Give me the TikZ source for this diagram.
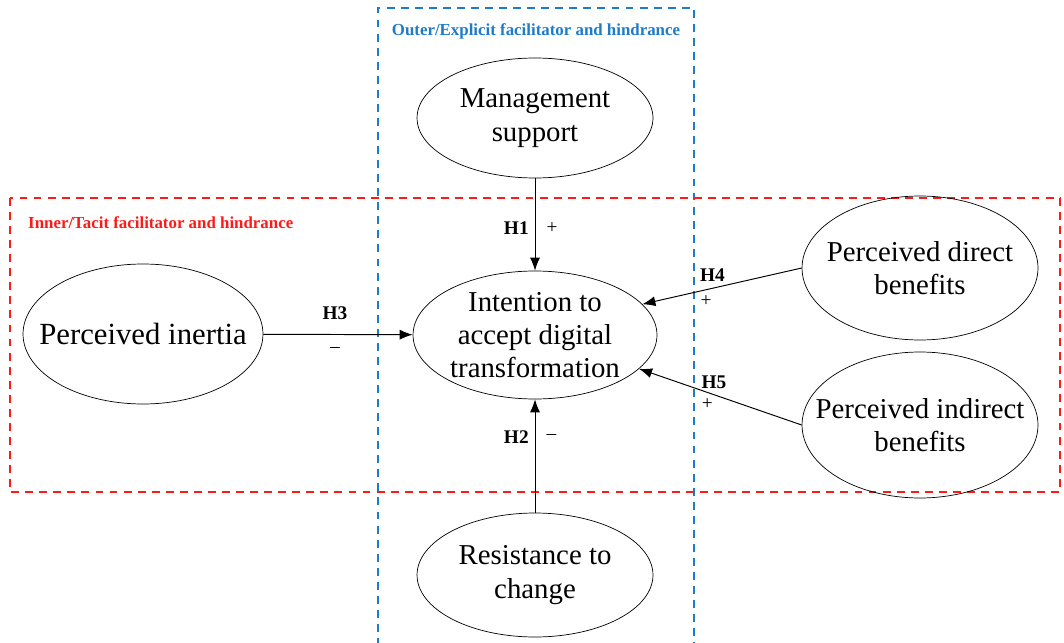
\documentclass[tikz,border=0pt]{standalone}
\usepackage{fontspec}
\setmainfont{Liberation Serif}
\definecolor{outerBlue}{HTML}{1F7BC8}
\definecolor{innerRed}{HTML}{FF1A1A}
\usetikzlibrary{arrows.meta, positioning, shapes.geometric}

\begin{document}
\begin{tikzpicture}[
		x=0.02cm, y=-0.02cm,
		construct/.style={
			draw,
			ellipse,
			inner xsep=-1.6cm,
			inner ysep=-0.4cm,
			minimum width=4.72cm,
			minimum height=2.4cm,
			align=center,
			font=\fontsize{16.4}{19}\selectfont
		},
		arrow/.style={-{Latex[length=2.6mm,width=2mm]}, line width=0.55pt},
		hyp/.style={font=\fontsize{11}{13}\selectfont\bfseries},
		sign/.style={font=\fontsize{11}{13}\selectfont},
		frame/.style={dash pattern=on 4.5pt off 3.5pt, line width=1.1pt},
		title/.style={font=\fontsize{9.6}{11}\selectfont\bfseries}
		]
		\clip (0,0) rectangle (1064,642);
		
		% frames
		\draw[frame, draw=outerBlue] (378,660) -- (378,8) -- (694,8) -- (694,660);
		\draw[frame, draw=innerRed] (10,198) rectangle (1060,492);
		\node[title, text=outerBlue] (outerTitle) at (536,31) {Outer/Explicit facilitator and hindrance};
		\node[title, text=innerRed, anchor=west] (innerTitle) at (22,223) {Inner/Tacit facilitator and hindrance};
		
		% constructs
		\node[construct, minimum width=4.88cm, minimum height=2.56cm] (intent) at (535,335) {Intention to\\accept digital\\transformation};
		\node[construct] (mgmt) at (535,118) {Management\\support};
		\node[construct, minimum width=4.8cm, minimum height=2.8cm, font=\fontsize{17.5}{20}\selectfont] (inertia) at (143,334) {Perceived inertia};
		\node[construct, minimum height=2.88cm] (direct) at (920,268) {Perceived direct\\benefits};
		\node[construct, minimum height=2.92cm] (indirect) at (920,425) {Perceived indirect\\benefits};
		\node[construct, minimum height=2.48cm] (resist) at (535,575) {Resistance to\\change};
		
		% hypotheses
		\draw[arrow] (mgmt) -- node[pos=.54, hyp, left] {H1} node[pos=.54, sign, right=3pt] {+} (intent);
		\draw[arrow] (resist) -- node[pos=.67, hyp, left] {H2} node[pos=.67, sign, right=3pt] {--} (intent);
		\draw[arrow] (inertia) -- node[pos=.48, hyp, above=5pt] {H3} node[pos=.48, sign, below=4pt] {--} (intent);
		\draw[arrow] (direct.west) -- node[pos=.56, hyp, above] {H4} node[pos=.6, sign, below] {+} (intent.16);
		\draw[arrow] (indirect.west) -- node[pos=.54, hyp, above] {H5} node[pos=.58, sign, below] {+} (intent.-18);
		
	\end{tikzpicture}
\end{document}
